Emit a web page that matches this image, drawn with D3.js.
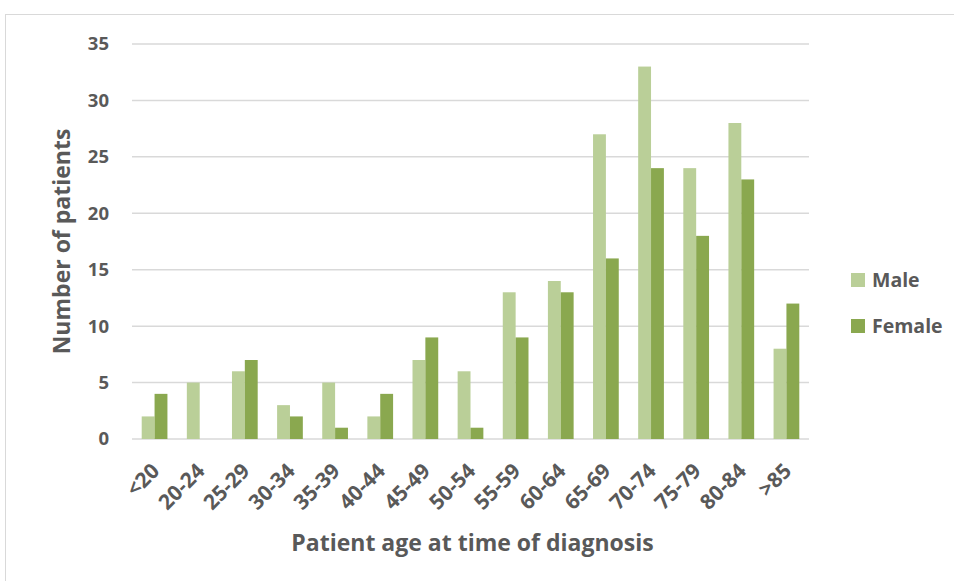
<!DOCTYPE html>
<html>
<head>
<meta charset="utf-8">
<script src="https://cdn.jsdelivr.net/npm/d3@7"></script>
<style>
  body { margin: 0; background: #fff; }
  text { font-family: "Open Sans", "Noto Sans", sans-serif; font-weight: bold; fill: #595959; }
</style>
</head>
<body>
<div id="chart"></div>
<script>
// age groups on the x axis
var ageGroups = ["<20", "20-24", "25-29", "30-34", "35-39", "40-44", "45-49", "50-54",
  "55-59", "60-64", "65-69", "70-74", "75-79", "80-84", ">85"];
// patients per group
var maleCounts = [2, 5, 6, 3, 5, 2, 7, 6, 13, 14, 27, 33, 24, 28, 8];
var femaleCounts = [4, 0, 7, 2, 1, 4, 9, 1, 9, 13, 16, 24, 18, 23, 12];
var seriesNames = ["Male", "Female"];
var yTicks = [0, 5, 10, 15, 20, 25, 30, 35];

var width = 954, height = 581;
var margin = {top: 44, left: 132, right: 145, bottom: 142};

var colors = {Male: "#BACF98", Female: "#8AA84F"};

var svg = d3.select("#chart").append("svg")
  .attr("width", width)
  .attr("height", height);

// outer frame (runs off the right and bottom edges)
svg.append("rect")
  .attr("x", 5.5).attr("y", 14.5)
  .attr("width", width + 10).attr("height", height + 10)
  .attr("fill", "none")
  .attr("stroke", "#D9D9D9");

var x0 = d3.scaleBand()
  .domain(ageGroups)
  .range([margin.left, width - margin.right])
  .paddingInner(0.43)
  .paddingOuter(0.215);

var x1 = d3.scaleBand()
  .domain(seriesNames)
  .range([0, x0.bandwidth()]);

var y = d3.scaleLinear()
  .domain([0, 35])
  .range([height - margin.bottom, margin.top]);

// gridlines
svg.append("g")
  .selectAll("line")
  .data(yTicks)
  .enter().append("line")
  .attr("x1", margin.left)
  .attr("x2", width - margin.right)
  .attr("y1", function(d) { return y(d); })
  .attr("y2", function(d) { return y(d); })
  .attr("stroke", "#D9D9D9")
  .attr("stroke-width", 1.5);

// y tick labels
svg.append("g")
  .selectAll("text")
  .data(yTicks)
  .enter().append("text")
  .attr("x", 109)
  .attr("y", function(d) { return y(d); })
  .attr("dy", "0.35em")
  .attr("text-anchor", "end")
  .style("font-size", "18.5px")
  .text(function(d) { return d; });

// bars
var rows = ageGroups.map(function(g, i) {
  return {group: g, values: [
    {name: "Male", value: maleCounts[i]},
    {name: "Female", value: femaleCounts[i]}
  ]};
});

var groups = svg.append("g")
  .selectAll("g")
  .data(rows)
  .enter().append("g")
  .attr("transform", function(d) { return "translate(" + x0(d.group) + ",0)"; });

groups.selectAll("rect")
  .data(function(d) { return d.values; })
  .enter().append("rect")
  .attr("x", function(d) { return x1(d.name); })
  .attr("width", x1.bandwidth())
  .attr("y", function(d) { return y(d.value); })
  .attr("height", function(d) { return y(0) - y(d.value); })
  .attr("fill", function(d) { return colors[d.name]; });

// x tick labels
svg.append("g")
  .selectAll("text")
  .data(ageGroups)
  .enter().append("text")
  .attr("text-anchor", "end")
  .style("font-size", "21px")
  .attr("transform", function(d) {
    var cx = x0(d) + x0.bandwidth() / 2 + 1;
    return "translate(" + cx + "," + 467 + ") rotate(-45)";
  })
  .attr("dy", "0.35em")
  .text(function(d) { return d; });

// axis titles
svg.append("text")
  .attr("x", (margin.left + width - margin.right) / 2 + 2)
  .attr("y", 551)
  .attr("text-anchor", "middle")
  .style("font-size", "23px")
  .text("Patient age at time of diagnosis");

svg.append("text")
  .attr("transform", "translate(70," + ((margin.top + height - margin.bottom) / 2) + ") rotate(-90)")
  .attr("text-anchor", "middle")
  .style("font-size", "23px")
  .text("Number of patients");

// legend
var legend = svg.append("g")
  .selectAll("g")
  .data(seriesNames)
  .enter().append("g")
  .attr("transform", function(d, i) { return "translate(851," + (280 + i * 46) + ")"; });

legend.append("rect")
  .attr("x", 0).attr("y", -7)
  .attr("width", 14).attr("height", 14)
  .attr("fill", function(d) { return colors[d]; });

legend.append("text")
  .attr("x", 21)
  .attr("dy", "0.35em")
  .style("font-size", "19.5px")
  .text(function(d) { return d; });
</script>
</body>
</html>
